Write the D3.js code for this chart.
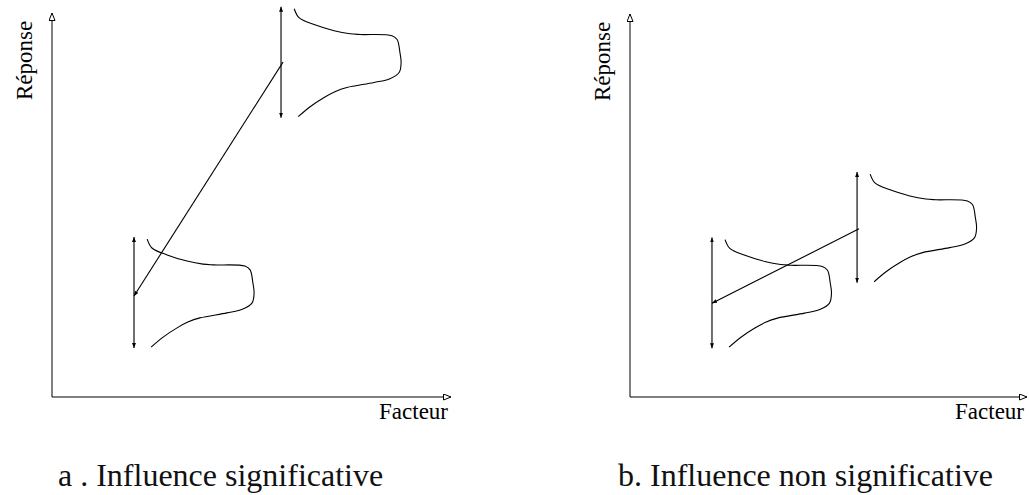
<!DOCTYPE html>
<html lang="fr">
  <head>
    <meta charset="utf-8">
    <title>Influence du facteur</title>
    <script src="https://d3js.org/d3.v7.js"></script>
    <style>
      body { margin: 0; background: white; }
    </style>
  </head>

  <body>
    <svg></svg>

  <script>

// data (factor / response units, axes run 0..100)

  const captions = ["a . Influence significative", "b. Influence non significative"];
  const axisLabels = {x: "Facteur", y: "Réponse"};

  const levelsA = [20.55, 57.4];
  const meansA = [27.2, 87.2];
  const linkA = [[20.55, 26.3], [57.9, 87.2]];

  const levelsB = [20.65, 57.2];
  const meansB = [27.2, 44.3];
  const linkB = [[20.65, 24.5], [57.7, 43.9]];

  const spread = 14.45;

// shape of the response distribution: offset from the mean / density width
  const profileOffset = [13.9, 11.6, 9.8, 8.2, 7.4, 7.2, 6.9, 5.9, 2.5, -0.1, -2.7, -4.3, -5.3, -6.6, -7.7, -9.2, -11.6, -14.2];
  const profileDensity = [3.3, 4.5, 8.3, 13.3, 17.3, 19.8, 27.8, 29.1, 29.8, 30.1, 29.6, 27.3, 23.3, 16.5, 13.5, 10.8, 7.3, 4.3];

  const profile = profileOffset.map((o, i) => ({off: o, dens: profileDensity[i]}));

  const w = 1029;
  const h = 495;
  const serif = "'Liberation Serif', 'DejaVu Serif', serif";

  const svg = d3.select("svg")
      .attr("width", w)
      .attr("height", h);

  const defs = svg.append("defs");

  defs.append("marker")
      .attr("id", "open")
      .attr("markerUnits", "userSpaceOnUse")
      .attr("markerWidth", 10)
      .attr("markerHeight", 8)
      .attr("refX", 8)
      .attr("refY", 3.5)
      .attr("orient", "auto")
    .append("path")
      .attr("d", "M0.5,0.5 L8,3.5 L0.5,6.5 Z")
      .attr("fill", "white")
      .attr("stroke", "black")
      .attr("stroke-width", 1);

  defs.append("marker")
      .attr("id", "small")
      .attr("markerUnits", "userSpaceOnUse")
      .attr("markerWidth", 6)
      .attr("markerHeight", 4)
      .attr("refX", 5)
      .attr("refY", 2)
      .attr("orient", "auto-start-reverse")
    .append("path")
      .attr("d", "M0,0 L5,2 L0,4 Z")
      .attr("fill", "black");

  const panels = [
    {caption: captions[0], levels: levelsA, means: meansA, link: linkA,
     xr: [52, 451], yr: [397, 13], capX: 58},
    {caption: captions[1], levels: levelsB, means: meansB, link: linkB,
     xr: [630, 1027], yr: [397, 14], capX: 618}
  ];

  panels.forEach(p => {

    const xScale = d3.scaleLinear().domain([0, 100]).range(p.xr);
    const yScale = d3.scaleLinear().domain([0, 100]).range(p.yr);

    const g = svg.append("g");

// axes with open arrow heads

    g.append("line")
        .attr("x1", xScale(0)).attr("y1", yScale(0))
        .attr("x2", xScale(100)).attr("y2", yScale(0))
        .attr("stroke", "black")
        .attr("marker-end", "url(#open)");

    g.append("line")
        .attr("x1", xScale(0)).attr("y1", yScale(0))
        .attr("x2", xScale(0)).attr("y2", yScale(100))
        .attr("stroke", "black")
        .attr("marker-end", "url(#open)");

    g.append("text")
        .attr("x", xScale(100) - 3)
        .attr("y", yScale(0) + 22)
        .attr("text-anchor", "end")
        .attr("font-family", serif)
        .attr("font-size", 23)
        .text(axisLabels.x);

    g.append("text")
        .attr("transform", `translate(${xScale(0) - 20}, ${yScale(100) + 87}) rotate(-90)`)
        .attr("font-family", serif)
        .attr("font-size", 23)
        .text(axisLabels.y);

// spread of the response at each level

    g.selectAll(".spread")
      .data(p.levels)
      .join("line")
        .attr("class", "spread")
        .attr("x1", d => xScale(d))
        .attr("x2", d => xScale(d))
        .attr("y1", (d, i) => yScale(p.means[i] + spread))
        .attr("y2", (d, i) => yScale(p.means[i] - spread))
        .attr("stroke", "#333")
        .attr("stroke-width", 1.4)
        .attr("marker-start", "url(#small)")
        .attr("marker-end", "url(#small)");

// distributions

    const curve = (lvl, mean) => d3.line()
        .x(d => xScale(lvl + d.dens))
        .y(d => yScale(mean + d.off))
        .curve(d3.curveCatmullRom)(profile);

    g.selectAll(".dist")
      .data(p.levels)
      .join("path")
        .attr("class", "dist")
        .attr("d", (d, i) => curve(d, p.means[i]))
        .attr("fill", "none")
        .attr("stroke", "black")
        .attr("stroke-width", 1.1);

// line joining the means

    g.append("line")
        .attr("x1", xScale(p.link[1][0])).attr("y1", yScale(p.link[1][1]))
        .attr("x2", xScale(p.link[0][0])).attr("y2", yScale(p.link[0][1]))
        .attr("stroke", "black")
        .attr("stroke-width", 1.1)
        .attr("marker-end", "url(#small)");

    svg.append("text")
        .attr("x", p.capX)
        .attr("y", 486)
        .attr("font-family", serif)
        .attr("font-size", 32)
        .attr("fill", "#111")
        .text(p.caption);
  });

    </script>

  </body>

</html>
